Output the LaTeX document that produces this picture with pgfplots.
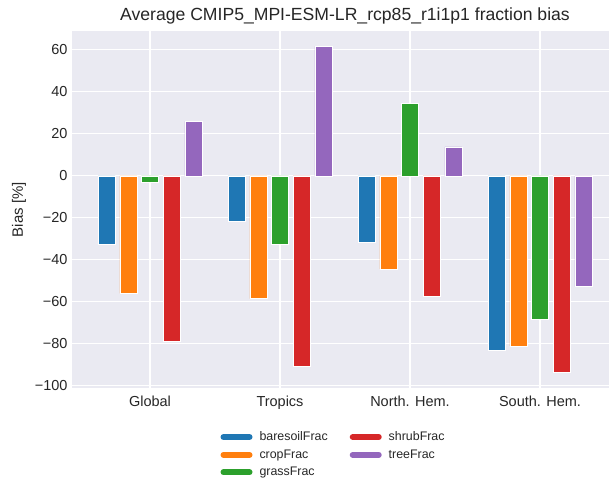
\documentclass[border=0pt]{standalone}
\usepackage{pgfplots}
\pgfplotsset{compat=1.18}
\usepackage{fontspec}
\setmainfont{Liberation Sans}

\definecolor{bgc}{HTML}{EAEAF2}
\definecolor{txt}{HTML}{262626}
\definecolor{cBlue}{HTML}{1F77B4}
\definecolor{cOrange}{HTML}{FF7F0E}
\definecolor{cGreen}{HTML}{2CA02C}
\definecolor{cRed}{HTML}{D62728}
\definecolor{cPurple}{HTML}{9467BD}

% fraction bias per region: Global, Tropics, North. Hem., South. Hem.
\pgfplotstableread{
x baresoil crop grass shrub tree
0 -32.4 -55.9 -3.0 -78.9 26.0
1 -21.7 -58.4 -32.4 -90.5 61.7
2 -31.7 -44.3 34.5 -57.3 13.8
3 -83.0 -81.0 -68.4 -93.3 -52.7
}\biasdata

\newcommand{\legline}[1]{\addlegendimage{legend image code/.code={\draw[line width=6pt,line cap=round,#1] (3pt,0pt) -- (29pt,0pt);}}}

\begin{document}
\begin{tikzpicture}
\useasboundingbox (0pt,0pt) rectangle (609pt,478pt);
\begin{axis}[
  at={(72pt,90pt)}, anchor=south west,
  scale only axis, width=546pt, height=357pt,
  xmin=-0.6, xmax=3.6, ymin=-101, ymax=69,
  axis background/.style={fill=bgc},
  axis line style={draw=none},
  major tick length=0pt,
  grid=major,
  major grid style={white, line width=1.1pt},
  xtick={0,1,2,3},
  xticklabels={Global, Tropics, North. Hem., South. Hem.},
  ytick={-100,-80,...,60},
  yticklabels={−100,−80,−60,−40,−20,0,20,40,60},
  tick label style={font=\fontsize{14.5}{17}\selectfont, text=txt},
  yticklabel style={xshift=-1pt},
  xticklabel style={yshift=-4pt},
  ylabel={Bias [\%]},
  ylabel style={font=\fontsize{15}{18}\selectfont, text=txt, yshift=2pt},
  title={Average CMIP5\_MPI-ESM-LR\_rcp85\_r1i1p1 fraction bias},
  title style={font=\fontsize{17.6}{21}\selectfont, text=txt, yshift=-3pt},
  legend columns=2,
  legend style={at={(0.479,-0.111)}, anchor=north, draw=none, fill=none,
    font=\fontsize{12.4}{14}\selectfont, text=txt,
    row sep=3.5pt,
    /tikz/every odd column/.append style={column sep=5pt},
    /tikz/every even column/.append style={column sep=20pt}},
  legend cell align=left,
]
\legline{cBlue}\addlegendentry{baresoilFrac}
\legline{cRed}\addlegendentry{shrubFrac}
\legline{cOrange}\addlegendentry{cropFrac}
\legline{cPurple}\addlegendentry{treeFrac}
\legline{cGreen}\addlegendentry{grassFrac}

\addplot[ybar, bar width=0.131, bar shift=-0.334, fill=cBlue, draw=white, line width=0.4pt, forget plot] table[x=x,y=baresoil] {\biasdata};
\addplot[ybar, bar width=0.131, bar shift=-0.167, fill=cOrange, draw=white, line width=0.4pt, forget plot] table[x=x,y=crop] {\biasdata};
\addplot[ybar, bar width=0.131, bar shift=0, fill=cGreen, draw=white, line width=0.4pt, forget plot] table[x=x,y=grass] {\biasdata};
\addplot[ybar, bar width=0.131, bar shift=0.167, fill=cRed, draw=white, line width=0.4pt, forget plot] table[x=x,y=shrub] {\biasdata};
\addplot[ybar, bar width=0.131, bar shift=0.334, fill=cPurple, draw=white, line width=0.4pt, forget plot] table[x=x,y=tree] {\biasdata};
\end{axis}
\end{tikzpicture}
\end{document}
